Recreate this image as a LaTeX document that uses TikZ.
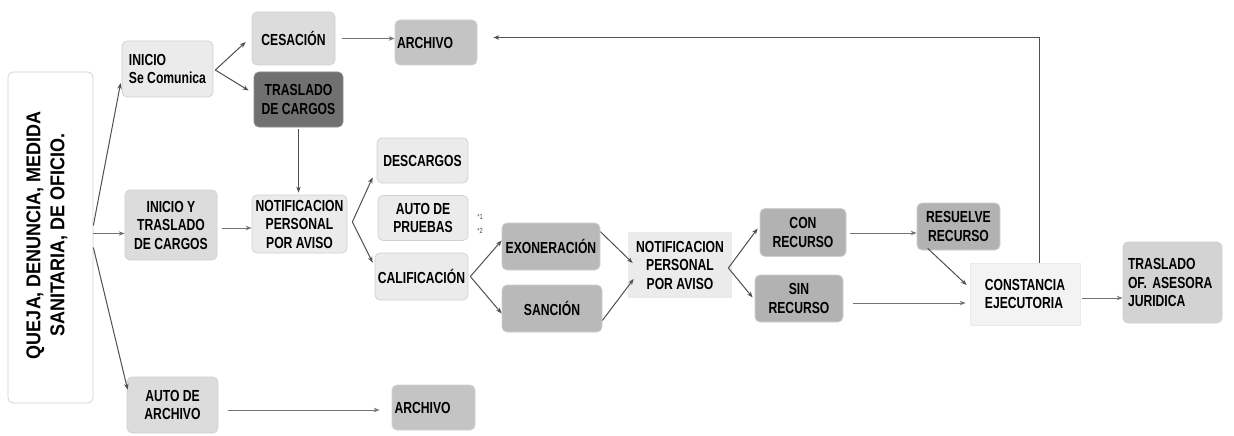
\documentclass[tikz,border=0pt]{standalone}
\usepackage{fontspec}
\usetikzlibrary{arrows.meta,calc}
\newfontfamily\nfam{Liberation Sans}[FakeStretch=0.76]
\newfontfamily\qfam{Liberation Sans}[FakeStretch=0.9]
\definecolor{clight}{HTML}{EBEBEB}
\definecolor{cmid}{HTML}{DCDCDC}
\definecolor{cdark}{HTML}{707070}
\definecolor{carch}{HTML}{C4C4C4}
\definecolor{cexo}{HTML}{B9B9B9}
\definecolor{crec}{HTML}{B2B2B2}
\definecolor{cof}{HTML}{D3D3D3}
\definecolor{cbord}{HTML}{D0D0D0}
\definecolor{cline}{HTML}{505050}
\tikzset{
  box/.style={rounded corners=5pt, draw=cbord, line width=0.7pt, inner sep=0pt,
    align=center, font=\nfam\bfseries\fontsize{16}{18.5}\selectfont, text=black},
  conn/.style={draw=cline, line width=1pt, -{Stealth[length=6pt,width=4.5pt]}},
  connl/.style={draw=cline!80, line width=1pt, -{Stealth[length=6pt,width=4.5pt]}},
}
\begin{document}
\begin{tikzpicture}[x=1pt,y=-1pt]
\useasboundingbox[fill=white] (0,0) rectangle (1234,436);
% nodes
\node[box, fill=white, draw=cbord, minimum width=85, minimum height=331] (queja) at (50.5,237.5) {};
\node[font=\qfam\bfseries\fontsize{20}{24}\selectfont, align=center, rotate=90, inner sep=0pt] (quejat) at (47,235) {QUEJA, DENUNCIA, MEDIDA\\SANITARIA, DE OFICIO.};
\node[box, fill=clight, align=left, minimum width=91, minimum height=56] (inicio) at (167.5,69) {INICIO\\Se Comunica};
\node[box, fill=cmid, minimum width=83, minimum height=53] (ces) at (293.5,38.5) {CESACIÓN};
\node[box, fill=cdark, draw=cdark!80, minimum width=89, minimum height=55] (tras) at (298.5,99.5) {TRASLADO\\DE CARGOS};
\node[box, fill=carch, align=left, text width=78, inner xsep=2, minimum height=45] (archtop) at (436,42.5) {ARCHIVO};
\node[box, fill=cmid, minimum width=92, minimum height=70] (inicioy) at (171,225) {INICIO Y\\TRASLADO\\DE CARGOS};
\node[box, fill=clight, minimum width=95, minimum height=58] (notifl) at (299.5,224) {NOTIFICACION\\PERSONAL\\POR AVISO};
\node[box, fill=clight, minimum width=91, minimum height=45] (desc) at (422.5,160.5) {DESCARGOS};
\node[box, fill=clight, minimum width=90, minimum height=45] (pruebas) at (423,218) {AUTO DE\\PRUEBAS};
\node[font=\nfam\fontsize{7.5}{8}\selectfont, text=black!70, inner sep=0pt] (ast1) at (480,217) {*1};
\node[font=\nfam\fontsize{7.5}{8}\selectfont, text=black!70, inner sep=0pt] (ast2) at (480,231) {*2};
\node[box, fill=clight, minimum width=93, minimum height=47] (calif) at (421.5,276.5) {CALIFICACIÓN};
\node[box, fill=cexo, minimum width=98, minimum height=47] (exon) at (551,246.5) {EXONERACIÓN};
\node[box, fill=cexo, minimum width=100, minimum height=47] (sanc) at (552,308.5) {SANCIÓN};
\node[box, fill=clight, draw=none, rounded corners=0pt, minimum width=104, minimum height=66] (notifr) at (680,265) {NOTIFICACION\\PERSONAL\\POR AVISO};
\node[box, fill=crec, minimum width=86, minimum height=48] (con) at (803,232.5) {CON\\RECURSO};
\node[box, fill=crec, minimum width=88, minimum height=47] (sin) at (799,298.5) {SIN\\RECURSO};
\node[box, fill=crec, minimum width=83, minimum height=47] (res) at (958.5,226.5) {RESUELVE\\RECURSO};
\node[box, fill=clight!60, draw=clight, rounded corners=0pt, align=left, minimum width=110, minimum height=62] (const) at (1025,294) {CONSTANCIA\\EJECUTORIA};
\node[box, fill=cof, align=left, text width=89, inner xsep=5, minimum height=81] (trasof) at (1172.5,282.5) {TRASLADO\\OF. ASESORA\\JURIDICA};
\node[box, fill=cmid, minimum width=91, minimum height=56] (autoarch) at (172.5,405) {AUTO DE\\ARCHIVO};
\node[box, fill=carch, align=left, text width=78, inner xsep=2.5, minimum height=45] (archbot) at (433.5,407.5) {ARCHIVO};
% connectors
\coordinate (q1) at ($(queja.east)+(0,-12)$);
\coordinate (q2) at ($(queja.east)+(0,-4)$);
\coordinate (q3) at ($(queja.east)+(0,10)$);
\draw[conn] (q1) -- ($(inicio.west)+(-1,14)$);
\draw[connl] (q2) -- (q2 -| inicioy.west);
\draw[conn] (q3) -- ($(autoarch.north west)+(1,13)$);
\coordinate (v1) at ($(inicio.east)+(2,1)$);
\draw[conn] (v1) -- ($(ces.west)+(-6,3.5)$);
\draw[conn] (v1) -- ($(tras.west)+(-5,-9)$);
\coordinate (c1) at ($(ces.east)+(7,0)$);
\draw[connl] (c1) -- (c1 -| archtop.west);
\draw[conn] ($(tras.south)+(0,2)$) -- ($(tras.south |- notifl.north)+(0,-2)$);
\coordinate (i1) at ($(inicioy.east)+(5,3)$);
\draw[connl] (i1) -- (i1 -| notifl.west);
\coordinate (v2) at ($(notifl.east)+(5,-2)$);
\draw[conn] (v2) -- ($(desc.south west)+(-4,-6)$);
\draw[conn] (v2) -- ($(calif.north west)+(-2,10)$);
\coordinate (v3) at ($(calif.east)+(2,0)$);
\draw[conn] (v3) -- ($(exon.west)+(0,-6)$);
\draw[conn] (v3) -- ($(sanc.west)+(0,5)$);
\draw[conn] ($(exon.north east)+(0,9)$) -- ($(notifr.west)+(5,-2)$);
\draw[conn] ($(sanc.east)+(0,12)$) -- ($(notifr.west)+(6,14)$);
\coordinate (v4) at ($(notifr.east)+(-4,3)$);
\draw[conn] (v4) -- ($(con.west)+(-2,-4)$);
\draw[conn] (v4) -- ($(sin.west)+(-2,-1)$);
\coordinate (r1) at ($(con.east)+(4,0.5)$);
\draw[connl] (r1) -- (r1 -| res.west);
\draw[conn] ($(res.south west)+(11,-2)$) -- ($(const.west)+(-3,-9)$);
\coordinate (s1) at ($(sin.east)+(10,4.5)$);
\draw[connl] (s1) -- ($(s1 -| const.west)+(-4,0)$);
\coordinate (k1) at ($(const.east)+(2,4)$);
\draw[connl] (k1) -- (k1 -| trasof.west);
\coordinate (f1) at ($(const.north)+(14,0)$);
\coordinate (f2) at ($(archtop.east)+(16,-5)$);
\draw[conn] (f1) |- (f2);
\coordinate (a1) at ($(autoarch.east)+(10,5)$);
\draw[connl] (a1) -- ($(a1 -| archbot.west)+(-12,0)$);
\end{tikzpicture}
\end{document}
